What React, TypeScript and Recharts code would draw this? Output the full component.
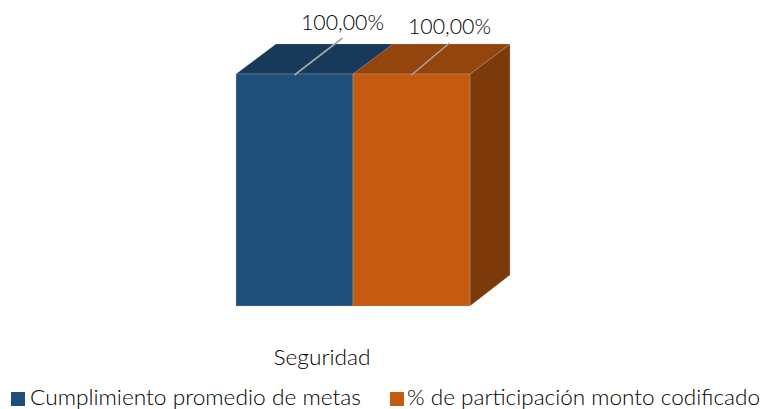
import React from "react";
import { BarChart, Bar, XAxis, YAxis, Legend, LabelList } from "recharts";

const categories = ["Seguridad"];
const metas = [1];
const codificado = [1];
const seriesNames = ["Cumplimiento promedio de metas", "% de participación monto codificado"];
const valueLabels = ["100,00%", "100,00%"];

const data = categories.map((name, i) => ({ name, metas: metas[i], codificado: codificado[i] }));

const FONT = "Lato, 'Open Sans', sans-serif";
const DX = 40;
const DY = 30;
const EDGE = "#c4c4c4";

const makeShape = (front: string, top: string, side: string) => (p: any) => {
  const { x, y, width: w, height: h } = p;
  return (
    <g>
      <polygon points={`${x + w},${y} ${x + w + DX},${y - DY} ${x + w + DX},${y + h - DY - 1} ${x + w},${y + h}`} fill={side} stroke={EDGE} strokeWidth={0.3} />
      <polygon points={`${x},${y} ${x + DX},${y - DY} ${x + w + DX},${y - DY} ${x + w},${y}`} fill={top} stroke={EDGE} strokeWidth={0.2} />
      <rect x={x} y={y} width={w} height={h} fill={front} stroke={EDGE} strokeWidth={0.3} />
    </g>
  );
};

const makeLabel = (idx: number, tipDx: number, tipDy: number, textDy: number) => (p: any) => {
  const cx = p.x + p.width / 2;
  const y = p.y;
  return (
    <g>
      <line x1={cx} y1={y + 1} x2={cx + tipDx} y2={y + tipDy} stroke="#a6a6a6" strokeWidth={1.6} />
      <text x={cx + tipDx} y={y + tipDy + textDy} textAnchor="middle" fontFamily={FONT} fontWeight={300} fontSize={22} fill="#000000" textLength={83} lengthAdjust="spacingAndGlyphs">
        {valueLabels[idx]}
      </text>
    </g>
  );
};

const AxisTick = (p: any) => (
  <text x={p.x - 31} y={p.y + 13} textAnchor="middle" fontFamily={FONT} fontWeight={300} fontSize={22} fill="#000000" textLength={97} lengthAdjust="spacingAndGlyphs">
    {p.payload.value}
  </text>
);

const legendPositions = [
  { swatch: 11, text: 30, width: 331 },
  { swatch: 390, text: 407, width: 353 },
];

const LegendContent = (p: any) => (
  <svg width={762} height={24} style={{ display: "block" }}>
    {(p.payload || []).map((e: any, i: number) => (
      <g key={i}>
        <rect x={legendPositions[i].swatch} y={7} width={14} height={14} fill={e.color} />
        <text
          x={legendPositions[i].text}
          y={20}
          fontFamily={FONT}
          fontWeight={300}
          fontSize={21}
          fill="#000000"
          textLength={legendPositions[i].width}
          lengthAdjust="spacingAndGlyphs"
        >
          {e.value}
        </text>
      </g>
    ))}
  </svg>
);

export default function App() {
  return (
    <div style={{ position: "absolute", left: 0, top: 0, width: 762, height: 409, overflow: "hidden", background: "#fff" }}>
      <BarChart
        width={762}
        height={409}
        data={data}
        margin={{ top: 74, right: 292, bottom: 19, left: 236 }}
        barCategoryGap={0}
        barGap={0}
      >
        <XAxis dataKey="name" axisLine={false} tickLine={false} height={60} tick={<AxisTick />} tickMargin={40} />
        <YAxis hide domain={[0, 1]} width={0} />
        <Bar dataKey="metas" name={seriesNames[0]} fill="#1F4E79" isAnimationActive={false} shape={makeShape("#1F4E79", "#173A5B", "#173A5B")}>
          <LabelList dataKey="metas" content={makeLabel(0, 48, -36, -8)} />
        </Bar>
        <Bar dataKey="codificado" name={seriesNames[1]} fill="#C55A11" isAnimationActive={false} shape={makeShape("#C55A11", "#94440D", "#7C3A0A")}>
          <LabelList dataKey="codificado" content={makeLabel(1, 38, -31, -9)} />
        </Bar>
        <Legend itemSorter={null} content={<LegendContent />} wrapperStyle={{ left: 0, top: 385, width: 762, height: 24 }} />
      </BarChart>
    </div>
  );
}
